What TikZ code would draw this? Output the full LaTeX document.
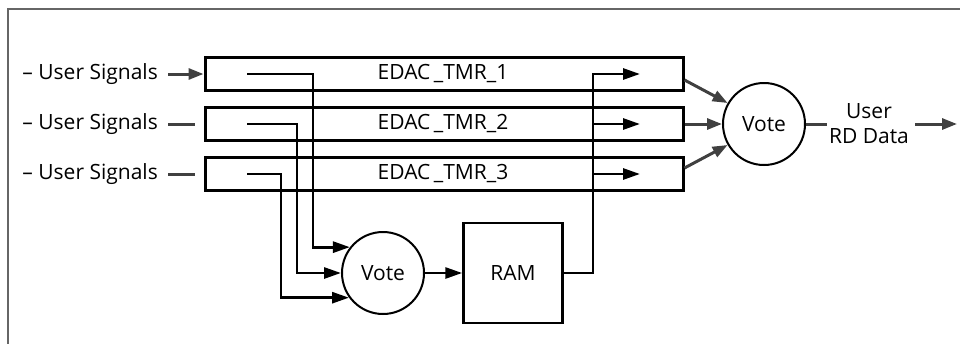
\documentclass[tikz,border=0pt]{standalone}
\usepackage{fontspec}
\setmainfont{Open Sans}
\usetikzlibrary{arrows.meta,calc}
\definecolor{framegray}{HTML}{666666}
\definecolor{darkgray}{HTML}{404040}
\begin{document}
\begin{tikzpicture}[x=1pt,y=-1pt,
  font=\fontsize{21}{25}\selectfont,
  tmrbox/.style={draw=black,line width=3pt,minimum width=478pt,minimum height=33pt,inner sep=0pt},
  votecirc/.style={draw=black,line width=2pt,circle,minimum size=82pt,inner sep=0pt},
  rambox/.style={draw=black,line width=2.5pt,minimum width=99pt,minimum height=100pt,inner sep=0pt},
  wire/.style={draw=black,line width=2.8pt},
  warr/.style={wire,-{Triangle[length=17pt,width=11pt]}},
  garr/.style={draw=darkgray,line width=3pt,-{Triangle[length=15pt,width=11pt]}},
  gline/.style={draw=darkgray,line width=3pt},
  lbl/.style={text=black,inner sep=0pt}]
\useasboundingbox (0,0) rectangle (960,343);
% partial frame
\draw[framegray,line width=2pt] (8,345) -- (8,9) -- (962,9);

% triplicated EDAC blocks
\node[tmrbox] (tmr1) at (444,74) {};
\node[tmrbox] (tmr2) at (444,124) {};
\node[tmrbox] (tmr3) at (444,174) {};
\node[lbl] (t1) at (443,74) {EDAC\,\_TMR\_1};
\node[lbl] (t2) at (443,124) {EDAC\,\_TMR\_2};
\node[lbl] (t3) at (443,174) {EDAC\,\_TMR\_3};

% write path voter and memory
\node[votecirc] (vote1) at (383,273) {Vote};
\node[rambox] (ram) at (513,273) {RAM};

% read path voter
\node[votecirc] (vote2) at (764,124) {Vote};

% user signal inputs
\node[lbl,anchor=east] (sig1) at (158,74) {– User Signals};
\node[lbl,anchor=east] (sig2) at (158,124) {– User Signals};
\node[lbl,anchor=east] (sig3) at (158,174) {– User Signals};
\draw[garr] (sig1.east) ++(10,0) -- (tmr1.west);
\coordinate (s2e) at (195,124);
\coordinate (s3e) at (195,174);
\draw[gline] ($(sig2.east)+(10,0)$) -- (s2e);
\draw[gline] ($(sig3.east)+(10,0)$) -- (s3e);

% inner routing to the write voter
\coordinate (in1) at (247,74);
\coordinate (in2) at (247,124);
\coordinate (in3) at (247,174);
\coordinate (j1) at (313,0);
\coordinate (j2) at (297,0);
\coordinate (j3) at (281,0);
\draw[warr] (in1) -| (j1 |- vote1.142) -- (vote1.142);
\draw[warr] (in2) -| (j2 |- vote1.west) -- (vote1.west);
\draw[warr] (in3) -| (j3 |- vote1.216) -- (vote1.216);

% voter to memory, memory back to the three blocks
\draw[warr] (vote1.east) -- (ram.west);
\coordinate (j4) at (593,0);
\coordinate (o1) at (640,74);
\coordinate (o2) at (640,124);
\coordinate (o3) at (640,174);
\draw[warr] (ram.east) -| (j4 |- o1) -- (o1);
\draw[warr] (j4 |- o2) -- (o2);
\draw[warr] (j4 |- o3) -- (o3);

% block outputs into the read voter
\draw[garr] ([yshift=-6pt]tmr1.east) -- (vote2.150);
\draw[garr] (tmr2.east) -- (vote2.west);
\draw[garr] ([yshift=6pt]tmr3.east) -- (vote2.210);

% read data output
\coordinate (stub) at (827,124);
\draw[gline] (vote2.east) -- (stub);
\node[lbl,align=center] (out) at (869,124) {User\\RD Data};
\coordinate (oa) at (915,124);
\coordinate (ob) at (957,124);
\draw[garr] (oa) -- (ob);
\end{tikzpicture}
\end{document}
